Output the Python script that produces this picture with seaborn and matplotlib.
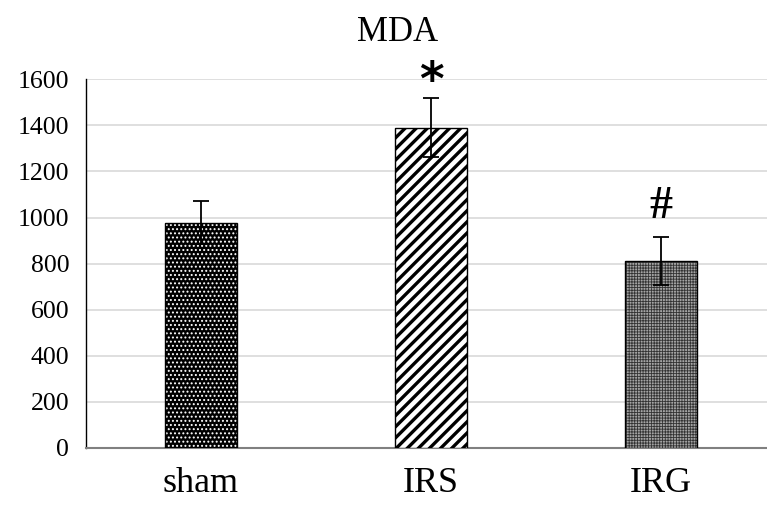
import pandas as pd
import matplotlib
matplotlib.use("Agg")
import matplotlib.pyplot as plt
import seaborn as sns

# values
groups = ['sham', 'IRS', 'IRG']
mda = [978, 1390, 812]
err = [92, 127, 103]
marks = ['', '*', '#']
faces = ['black', 'white', '#a4a4a4']
hatch_colors = ['white', 'black', '#333333']
hatches = ['....', '///', '++++++']
hatch_lw = [0.9, 2.4, 0.6]

data = pd.DataFrame({'group': groups, 'MDA': mda})

sns.set_style("white")
plt.rcParams['font.family'] = ['Liberation Serif', 'DejaVu Serif']
plt.rcParams['text.color'] = 'black'
plt.rcParams['xtick.color'] = 'black'
plt.rcParams['ytick.color'] = 'black'
plt.rcParams['hatch.linewidth'] = 1.6

fig = plt.figure(figsize=(7.67, 5.05), dpi=100)
ax = fig.add_axes([0.112, 0.113, 0.888, 0.73])

# filled bars with hatch (hatch takes the edge colour)
sns.barplot(data=data, x='group', y='MDA', ax=ax, width=0.314, errorbar=None,
            palette=faces, hue='group', legend=False, linewidth=0, zorder=3)
for patch, h, hc, lw in zip(ax.patches, hatches, hatch_colors, hatch_lw):
    patch.set_hatch(h)
    patch.set_edgecolor(hc)
    if hasattr(patch, 'set_hatch_linewidth'):
        patch.set_hatch_linewidth(lw)
# black outline on top
sns.barplot(data=data, x='group', y='MDA', ax=ax, width=0.314, errorbar=None,
            fill=False, color='black', linewidth=1.0, zorder=4)

xs = [p.get_x() + p.get_width() / 2 for p in ax.patches[:3]]
ax.errorbar(xs, mda, yerr=err, fmt='none', ecolor='black', elinewidth=1.3,
            capsize=6, capthick=1.3, zorder=5)

for x, v, e, m in zip(xs, mda, err, marks):
    if m == '*':
        ax.text(x, v + e + 70, m, ha='center', va='center', fontsize=34,
                fontweight='bold', color='black',
                family=['DejaVu Sans'], clip_on=False)
    elif m:
        ax.text(x, v + e + 130, m, ha='center', va='center', fontsize=33,
                fontweight='bold', color='black',
                family=['Liberation Serif', 'DejaVu Serif'], clip_on=False)

ax.set_ylim(0, 1600)
ax.set_xlim(-0.5, 2.46)
ax.set_yticks(range(0, 1601, 200))
ax.yaxis.grid(True, color='#d9d9d9', linewidth=1.2, zorder=0)
ax.set_axisbelow(True)
ax.tick_params(axis='y', labelsize=18.5, length=0, pad=12, labelcolor='black')
ax.tick_params(axis='x', labelsize=26, length=0, pad=14, labelcolor='black')
ax.set_xlabel('')
ax.set_ylabel('')
for s in ['top', 'right']:
    ax.spines[s].set_visible(False)
ax.spines['left'].set_color('black')
ax.spines['left'].set_linewidth(1.0)
ax.spines['bottom'].set_color('#808080')
ax.spines['bottom'].set_linewidth(1.5)

fig.text(0.518, 0.935, 'MDA', ha='center', va='center', fontsize=25)

fig.savefig('out.png', dpi=100)
